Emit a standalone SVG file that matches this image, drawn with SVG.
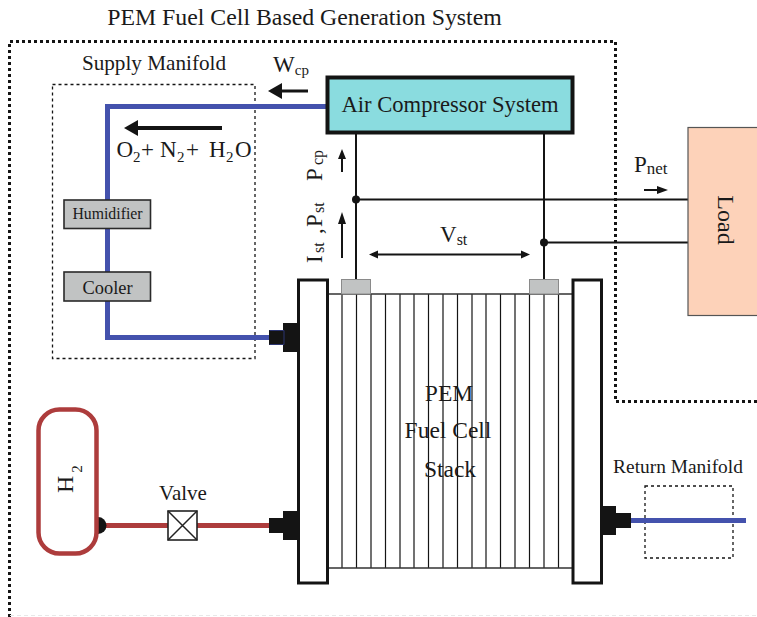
<svg xmlns="http://www.w3.org/2000/svg" width="757" height="617" viewBox="0 0 757 617">
<defs>
<style>
text{font-family:"Liberation Serif","Times New Roman",serif;fill:#1a1a1a}
.blue{fill:none;stroke:#4452ad;stroke-width:5}
.red{fill:none;stroke:#ad3c3c;stroke-width:5}
.wire{fill:none;stroke:#141414;stroke-width:2}
.cell{stroke:#141414;stroke-width:1.2;fill:none}
.dash{fill:none;stroke:#141414;stroke-width:1.3;stroke-dasharray:3 3}
.dot{fill:none;stroke:#141414;stroke-width:3;stroke-dasharray:3 3}
.k{fill:#141414}
.box{fill:#c1c3c3;stroke:#2a2a2a;stroke-width:1.6}
.term{fill:#c1c3c3;stroke:#8a8a8a;stroke-width:1}
.plate{fill:#fff;stroke:#141414;stroke-width:3}
</style>
</defs>
<text x="304.500" y="25" text-anchor="middle" font-size="23.800">PEM Fuel Cell Based Generation System</text>
<path id="system-boundary" class="dot" d="M9.500 617V41.500H615.500V401.500H757"/>
<path id="bottom-trace" d="M10 615.500H757" fill="none" stroke="#e8e8e8" stroke-width="1" stroke-dasharray="4 3"/>
<g id="supply-manifold">
<rect x="52.500" y="84.500" width="202.500" height="274" class="dash"/>
<text x="154" y="70" text-anchor="middle" font-size="21.200">Supply Manifold</text>
</g>
<g id="return-manifold">
<rect x="645" y="486" width="88" height="72" class="dash"/>
<text x="678" y="473" text-anchor="middle" font-size="19.400">Return Manifold</text>
</g>
<g id="connectors">
<path class="blue" d="M327 106.500H107.500V337.500H272"/>
<path class="blue" d="M630 520.500H746"/>
<path class="red" d="M104 525.500H272"/>
<path class="wire" d="M356 76V279M544 76V279M356 199.500H688M544 242.500H688"/>
<circle cx="356" cy="199.500" r="4" class="k"/>
<circle cx="544" cy="242.500" r="4" class="k"/>
</g>
<g id="flow-arrows">
<path class="k" d="M268 91L282 83V89.500H308V92.500H282V99Z"/>
<path class="k" d="M124 128L138 120V126H222V130H138V136Z"/>
<path class="k" d="M342 149L346 159H343V172H341V159H338Z"/>
<path class="k" d="M342 212L346 224H343V258H341V224H338Z"/>
<path class="k" d="M369 254.500L378 250.500V253.500H521V250.500L530 254.500L521 258.500V255.500H378V258.500Z"/>
<path class="k" d="M668 190L657 186V189H644V191H657V194Z"/>
</g>
<g id="air-compressor">
<rect x="327.500" y="77.500" width="245" height="55" fill="#8adcdf" stroke="#141414" stroke-width="4"/>
<text x="450" y="112" text-anchor="middle" font-size="22.600">Air Compressor System</text>
</g>
<g id="load">
<rect x="688" y="127.500" width="72" height="188" fill="#fdd2b9" stroke="#555" stroke-width="1.200"/>
<text transform="translate(718 220) rotate(90)" text-anchor="middle" font-size="24">Load</text>
</g>
<g id="humidifier">
<rect x="64" y="200" width="86.500" height="28.500" class="box"/>
<text x="107.500" y="219" text-anchor="middle" font-size="15.800">Humidifier</text>
</g>
<g id="cooler">
<rect x="64" y="272" width="86.500" height="29" class="box"/>
<text x="107.500" y="294" text-anchor="middle" font-size="18.400">Cooler</text>
</g>
<g id="fuel-cell-stack">
<path class="cell" d="M342 294V568M356.500 294V568M371 294V568M385.500 294V568M400 294V568M414 294V568M428.500 294V568M443 294V568M457.500 294V568M472 294V568M486 294V568M500.500 294V568M515 294V568M529.500 294V568M544 294V568M558.500 294V568"/>
<path d="M328 294H572M328 568H572" fill="none" stroke="#333" stroke-width="1.500"/>
<rect x="341.500" y="279.500" width="29" height="14.500" class="term"/>
<rect x="529.500" y="279.500" width="29" height="14.500" class="term"/>
<rect x="298.500" y="280" width="29" height="303" class="plate"/>
<rect x="573" y="280" width="28.500" height="303" class="plate"/>
<text x="449" y="401" text-anchor="middle" font-size="23.500">PEM</text>
<text x="448" y="438" text-anchor="middle" font-size="23.500">Fuel Cell</text>
<text x="450" y="477" text-anchor="middle" font-size="23.500">Stack</text>
</g>
<g id="stack-ports">
<path class="k" d="M283 323H297V352H283V345H269V330H283Z"/>
<path class="k" d="M283 511H297V540H283V533H269V518H283Z"/>
<path class="k" d="M603 506H616V513H631V528H616V535H603Z"/>
<path d="M269.500 330.500H284V344.500H269.500" fill="none" stroke="#2b3470" stroke-width="1"/>
</g>
<g id="hydrogen-tank">
<path d="M98 517V534A8.500 8.500 0 0 0 98 517Z" class="k"/>
<rect x="38.500" y="409.500" width="58" height="144" rx="21" ry="21" fill="#fff" stroke="#ad3c3c" stroke-width="4.500"/>
<text transform="translate(73 493) rotate(-90)" font-size="24">H<tspan dx="3" dy="9" font-size="15">2</tspan></text>
</g>
<g id="valve">
<rect x="168" y="511" width="29" height="29" fill="#fff" stroke="#222" stroke-width="1.600"/>
<path d="M168 511L197 540M197 511L168 540" stroke="#222" stroke-width="1.500" fill="none"/>
<text x="183" y="500" text-anchor="middle" font-size="21">Valve</text>
</g>
<g id="labels">
<text x="273" y="72" font-size="23">W<tspan font-size="15" dy="3">cp</tspan></text>
<text x="116.500" y="157" font-size="23">O<tspan font-size="15" x="133" dy="5">2</tspan><tspan x="141" dy="-5">+</tspan><tspan x="160">N</tspan><tspan font-size="15" x="177" dy="5">2</tspan><tspan x="186" dy="-5">+</tspan><tspan x="209">H</tspan><tspan font-size="15" x="226" dy="5">2</tspan><tspan x="235" dy="-5">O</tspan></text>
<text transform="translate(322 181) rotate(-90)" font-size="23">P<tspan font-size="16" x="16" dy="1">cp</tspan></text>
<text transform="translate(322 263) rotate(-90)" font-size="23">I<tspan font-size="16" x="10" dy="2">st</tspan><tspan x="29" dy="-2">,</tspan><tspan x="36">P</tspan><tspan font-size="16" x="50" dy="2">st</tspan></text>
<text x="440" y="242" font-size="23">V<tspan font-size="16" dy="3">st</tspan></text>
<text x="634" y="172" font-size="23">P<tspan font-size="17" dy="2">net</tspan></text>
</g>
</svg>
